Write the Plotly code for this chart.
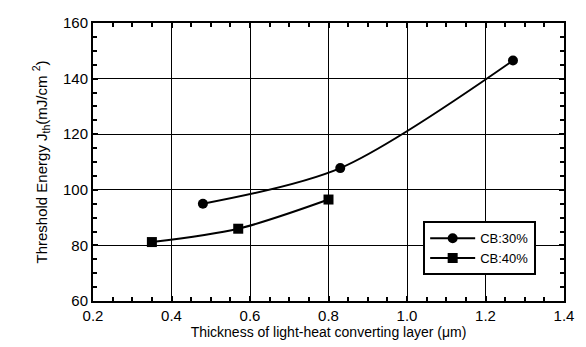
import plotly.graph_objects as go

x30 = [0.48, 0.83, 1.27]
y30 = [95.0, 107.8, 146.5]
x40 = [0.35, 0.57, 0.80]
y40 = [81.2, 86.0, 96.5]
names = ["CB:30%", "CB:40%"]

fig = go.Figure()
fig.add_trace(go.Scatter(x=x30, y=y30, name=names[0], mode="lines+markers",
                         line=dict(color="black", width=2, shape="spline", smoothing=0.85),
                         marker=dict(symbol="circle", size=10, color="black")))
fig.add_trace(go.Scatter(x=x40, y=y40, name=names[1], mode="lines+markers",
                         line=dict(color="black", width=2, shape="spline", smoothing=0.85),
                         marker=dict(symbol="square", size=10, color="black")))

font = "Liberation Sans, Arial, sans-serif"
axis_common = dict(showline=True, linecolor="black", linewidth=2, mirror="allticks",
                   ticks="inside", ticklen=5, tickwidth=1.5, tickcolor="black",
                   showgrid=True, gridcolor="black", gridwidth=1, zeroline=False,
                   tickfont=dict(family=font, size=15, color="black"))
fig.update_xaxes(range=[0.2, 1.4], dtick=0.2, tick0=0.2, tickformat=".1f",
                 minor=dict(dtick=0.05, ticks="inside", ticklen=4, tickcolor="black", showgrid=False),
                 title=dict(text="Thickness of light-heat converting layer (μm)",
                            font=dict(family=font, size=14, color="black"), standoff=1),
                 **axis_common)
fig.update_yaxes(range=[60, 160], dtick=20,
                 minor=dict(dtick=5, ticks="inside", ticklen=4, tickcolor="black", showgrid=False),
                 title=dict(text="Threshold Energy J<sub>th</sub>(mJ/cm <sup>2</sup>)",
                            font=dict(family=font, size=15, color="black"), standoff=12),
                 **axis_common)
fig.update_layout(width=586, height=347, margin=dict(l=93, r=14, t=23, b=42),
                  plot_bgcolor="white", paper_bgcolor="white",
                  legend=dict(x=0.701, y=0.287, xanchor="left", yanchor="top",
                              bordercolor="black", borderwidth=2, bgcolor="white",
                              font=dict(family=font, size=13, color="black"),
                              itemwidth=45, tracegroupgap=4))
fig.write_html("out.html")
